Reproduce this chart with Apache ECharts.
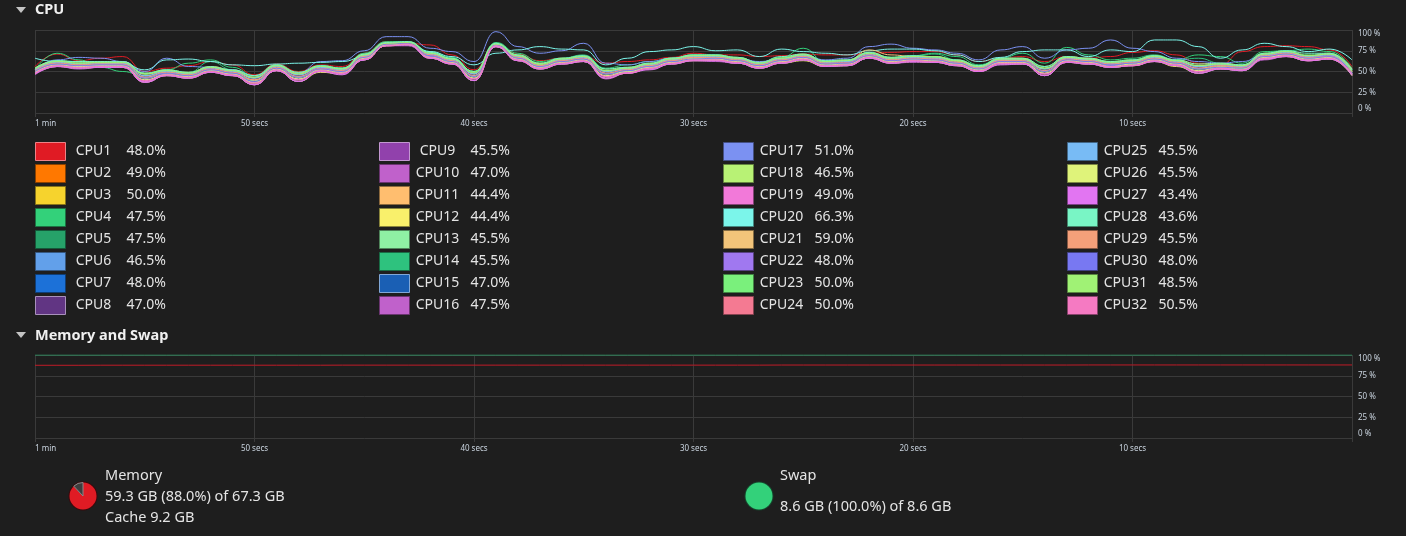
<!DOCTYPE html>
<html><head><meta charset="utf-8">
<script src="https://cdn.jsdelivr.net/npm/echarts@6/dist/echarts.min.js"></script>
<style>html,body{margin:0;padding:0;background:#1e1e1e;}#c{width:1406px;height:536px;}</style>
</head><body><div id="c"></div>
<script>
// ---- data ----
const timeLabels = ['1 min','50 secs','40 secs','30 secs','20 secs','10 secs',''];
const pctTicks = [0,25,50,75,100];
const cpuNames = ['CPU1','CPU2','CPU3','CPU4','CPU5','CPU6','CPU7','CPU8','CPU9','CPU10','CPU11','CPU12','CPU13','CPU14','CPU15','CPU16','CPU17','CPU18','CPU19','CPU20','CPU21','CPU22','CPU23','CPU24','CPU25','CPU26','CPU27','CPU28','CPU29','CPU30','CPU31','CPU32'];
const cpuNow = ['48.0%','49.0%','50.0%','47.5%','47.5%','46.5%','48.0%','47.0%','45.5%','47.0%','44.4%','44.4%','45.5%','45.5%','47.0%','47.5%','51.0%','46.5%','49.0%','66.3%','59.0%','48.0%','50.0%','50.0%','45.5%','45.5%','43.4%','43.6%','45.5%','48.0%','48.5%','50.5%'];

const CPU1 = [56,71,63,66,68,50,54,57,62,58,46,59,50,58,56,72,86,84,82,70,52,84,71,63,66,68,60,62,64,67,72,70,70,68,69,71,70,70,72,73,74,74,70,62,66,68,62,68,66,68,73,75,70,60,58,74,80,81,80,76,56];
const CPU2 = [54,63,61,62,62,48,52,49,56,52,45,58,49,57,54,71,85,86,73,66,50,84,70,60,66,69,53,55,60,66,70,70,67,61,67,71,63,64,73,67,69,68,64,57,66,66,56,68,66,62,64,69,64,59,60,58,72,75,70,72,53];
const CPU3 = [48,57,55,56,56,39,46,43,50,46,35,52,40,51,48,65,82,83,67,60,39,81,64,54,60,63,44,49,54,60,64,64,61,55,61,65,57,58,67,61,63,62,58,51,60,60,47,62,60,56,58,63,58,50,54,52,66,69,64,66,46];
const CPU4 = [52,72,64,55,50,44,52,60,64,55,45,58,48,57,54,72,86,86,74,67,50,85,72,62,66,69,54,58,62,66,70,70,67,60,67,78,62,58,72,67,69,72,68,58,66,72,60,79,70,64,66,70,64,70,68,60,74,75,77,74,54];
const CPU5 = [53,62,60,58,61,47,51,48,55,51,43,57,47,56,53,70,84,85,72,65,48,83,69,59,65,68,51,54,59,65,69,69,66,60,66,70,56,57,72,66,68,67,63,56,65,65,54,67,65,61,63,68,63,57,59,57,71,74,69,71,52];
const CPU6 = [51,60,58,59,59,43,49,46,53,49,40,55,44,54,51,68,83,84,70,63,45,82,67,57,63,66,48,52,57,63,67,67,64,58,64,68,60,61,70,64,66,65,61,54,63,63,51,65,63,59,61,66,61,54,57,55,69,72,67,69,48];
const CPU7 = [50,61,59,60,60,45,50,47,54,50,42,56,46,55,53,69,84,85,71,64,47,83,68,58,64,67,50,53,58,64,67,68,65,59,65,69,61,62,71,65,67,66,62,55,64,64,53,66,64,60,63,67,62,56,58,56,70,73,68,70,49];
const CPU8 = [49,58,56,57,57,40,47,44,51,47,37,53,41,52,49,66,82,83,68,61,42,81,65,55,61,64,45,50,55,61,65,65,62,56,62,66,58,59,68,62,64,63,59,52,61,61,48,63,61,57,59,64,59,51,55,53,67,70,65,67,46];
const CPU9 = [48,56,55,56,56,39,46,43,50,46,36,52,40,51,48,64,82,83,67,60,41,81,64,54,60,63,44,49,54,60,64,64,61,54,61,65,57,58,67,61,63,62,58,51,60,60,47,62,59,56,58,63,58,50,54,52,66,69,64,66,47];
const CPU10 = [47,56,53,55,55,37,45,42,49,45,34,51,38,50,47,64,81,82,66,59,39,80,63,53,59,62,41,48,53,59,63,63,60,54,60,64,56,57,66,60,61,61,57,50,59,59,45,61,59,55,57,62,57,48,53,51,65,68,63,65,46];
const CPU11 = [52,61,59,60,60,45,50,47,55,50,42,56,46,55,52,69,84,85,71,65,47,83,68,58,64,67,50,53,58,64,68,68,65,59,65,69,61,62,73,65,67,66,62,55,64,64,53,66,64,60,62,67,62,56,58,56,70,74,68,70,50];
const CPU12 = [47,56,54,55,55,37,45,42,49,45,34,51,38,49,47,64,81,82,66,59,39,80,63,53,59,62,42,48,53,59,63,63,60,54,60,63,56,57,66,60,62,61,57,50,59,59,45,61,59,55,57,62,56,48,53,51,65,68,63,65,45];
const CPU13 = [50,59,57,58,58,42,48,45,52,48,39,54,43,53,50,67,83,84,69,62,44,82,66,56,62,65,47,51,56,62,66,66,63,57,63,67,59,60,69,63,65,64,60,53,62,62,50,64,62,58,60,65,60,53,56,54,68,71,66,68,47];
const CPU14 = [54,63,61,62,62,48,52,49,62,52,45,58,49,57,54,71,85,86,73,66,50,84,70,60,66,70,53,55,60,66,70,70,67,61,67,71,63,64,73,67,69,71,64,57,66,66,56,68,66,62,64,69,64,66,60,58,72,75,70,72,52];
const CPU15 = [51,60,58,59,58,43,49,46,53,49,40,55,44,54,51,68,83,84,70,63,45,82,66,57,63,66,48,52,57,63,67,67,64,58,64,68,60,61,70,64,66,65,61,54,62,63,51,65,63,59,61,66,61,54,57,55,69,72,67,69,49];
const CPU16 = [46,56,54,55,55,37,45,42,49,45,34,51,38,50,47,64,81,81,66,59,39,80,63,53,59,62,42,48,53,59,63,62,60,54,60,64,56,57,66,60,62,61,57,50,59,59,45,61,59,55,57,62,57,48,53,51,64,68,63,65,46];
const CPU17 = [52,64,67,66,62,50,66,56,55,52,45,56,48,62,63,75,92,92,78,74,62,98,80,72,75,84,60,58,62,66,69,68,66,62,65,70,64,66,80,83,78,76,72,64,76,80,66,76,78,88,78,74,66,62,60,62,70,73,69,71,52];
const CPU18 = [50,59,57,58,58,42,48,45,52,47,39,54,43,53,50,67,83,84,69,62,44,82,66,56,62,65,47,50,56,62,66,66,63,57,63,67,59,60,69,63,65,64,60,53,62,62,50,63,62,58,60,65,60,53,56,54,68,71,66,68,48];
const CPU19 = [48,57,55,56,56,38,46,43,50,46,36,52,40,51,48,65,82,83,67,60,41,80,64,54,60,63,44,49,54,60,64,64,61,55,61,65,57,58,67,61,63,62,58,50,60,60,47,62,60,56,58,63,58,50,54,52,66,69,63,66,47];
const CPU20 = [66,62,62,60,60,52,64,65,62,58,57,59,60,61,62,68,84,85,74,68,58,72,76,80,77,76,58,66,74,76,80,75,76,68,77,74,72,70,75,77,77,75,70,62,67,74,76,76,68,76,74,88,88,80,66,76,84,80,74,77,64];
const CPU21 = [53,62,60,61,61,47,51,48,55,51,43,57,48,56,53,70,84,85,72,65,48,83,69,59,65,68,51,54,59,65,69,69,66,60,66,70,62,63,76,70,68,67,63,56,65,65,54,67,65,61,63,68,63,57,59,57,71,74,69,71,53];
const CPU22 = [49,58,56,57,57,40,47,43,51,47,37,53,41,52,49,66,82,83,68,61,42,81,65,55,60,64,45,50,55,61,65,65,62,56,62,66,58,59,68,62,64,63,59,52,61,60,48,63,61,57,59,64,59,51,55,52,67,70,65,67,47];
const CPU23 = [53,63,60,61,61,47,51,48,55,51,43,57,47,56,53,70,84,85,72,65,48,83,69,59,65,68,51,54,59,66,69,69,66,60,66,70,62,63,72,66,68,67,63,56,65,65,54,67,65,61,63,69,63,57,59,57,71,74,69,71,51];
const CPU24 = [51,60,58,59,59,43,49,46,53,49,40,54,44,54,51,68,83,84,70,63,45,82,67,57,63,66,48,52,57,63,67,67,65,58,64,68,60,61,70,64,66,65,61,54,63,63,51,65,63,59,61,66,61,54,57,55,68,72,67,69,50];
const CPU25 = [52,61,59,59,60,45,50,47,54,50,42,56,46,55,52,69,84,85,71,64,47,83,68,57,64,67,50,53,58,64,68,68,65,59,65,69,61,62,71,65,67,66,61,55,64,64,53,66,64,60,62,67,62,56,58,56,70,73,68,70,48];
const CPU26 = [49,58,56,57,57,40,46,44,51,47,37,53,41,52,49,66,82,83,67,61,42,81,65,55,61,64,45,50,55,61,65,65,62,56,62,66,58,59,68,62,64,63,59,52,61,61,48,63,61,56,59,64,59,51,55,53,67,70,65,67,46];
const CPU27 = [47,56,54,55,55,37,45,42,49,45,34,51,38,50,46,64,81,82,66,59,39,80,63,53,59,62,42,48,52,59,63,63,60,54,60,64,56,57,66,60,62,61,57,50,58,59,45,61,59,55,57,62,57,48,53,51,65,68,63,65,45];
const CPU28 = [54,63,62,62,62,48,52,49,56,52,45,58,49,57,54,71,85,86,73,66,50,84,70,60,66,69,53,55,60,66,70,70,67,61,68,71,63,64,73,67,69,68,64,57,66,66,56,68,66,62,64,69,64,59,60,58,72,75,72,72,52];
const CPU29 = [51,60,58,59,59,43,49,46,53,49,40,55,44,53,51,68,83,84,70,63,45,82,67,57,63,66,48,52,57,63,67,67,64,58,64,68,60,60,70,64,66,65,61,54,63,63,51,65,63,59,61,66,61,54,57,55,69,72,67,68,48];
const CPU30 = [50,59,57,58,58,42,48,45,52,48,38,54,43,53,50,67,83,84,69,62,44,82,66,56,62,65,47,51,56,62,65,66,63,57,63,67,59,60,69,63,65,64,60,53,62,62,50,64,62,58,60,65,60,53,55,54,68,71,66,68,47];
const CPU31 = [54,62,60,61,61,47,51,48,55,51,43,57,47,56,53,70,84,85,72,65,49,83,69,59,65,68,51,54,59,65,69,69,66,60,66,70,62,63,72,66,68,68,63,56,65,65,54,67,65,61,63,68,63,57,59,57,71,74,69,71,50];
const CPU32 = [48,57,55,56,56,39,46,43,50,46,36,52,40,51,48,65,81,83,67,60,41,81,64,54,60,63,44,48,54,60,64,64,61,55,61,65,57,58,67,61,63,62,58,51,60,60,47,62,60,56,57,63,58,50,54,52,66,69,64,66,47];

const memUsedPct = [87.6,87.6,87.6,87.7,87.7,87.7,87.7,87.7,87.7,87.7,87.7,87.7,87.7,87.7,87.8,87.8,87.8,87.8,87.8,87.8,87.8,87.8,87.8,87.8,87.8,87.8,87.8,87.8,87.8,87.8,87.8,87.8,87.8,87.8,87.9,87.9,87.9,87.9,87.9,87.9,87.9,87.9,87.9,87.9,87.9,87.9,87.9,87.9,88.0,88.0,88.0,88.0,88.0,88.0,88.0,88.0,88.0,88.0,88.0,88.0,88.0];
const swapUsedPct = [100,100,100,100,100,100,100,100,100,100,100,100,100,100,100,100,100,100,100,100,100,100,100,100,100,100,100,100,100,100,100,100,100,100,100,100,100,100,100,100,100,100,100,100,100,100,100,100,100,100,100,100,100,100,100,100,100,100,100,100,100];
const memUsedGB = '59.3', memTotalGB = '67.3', memPct = 88.0, cacheGB = '9.2';
const swapUsedGB = '8.6', swapTotalGB = '8.6', swapPct = 100.0;

// ---- styles ----
const cpuColors = ['#e01b24','#ff7800','#f6d32d','#33d17a','#26a269','#62a0ea','#1c71d8','#613583','#9141ac','#c061cb','#ffbe6f','#f9f06b','#8ff0a4','#2ec27e','#1a5fb4','#c061cb','#7b91f2','#b8f275','#f279d9','#7bf5ea','#f2c47a','#a078f0','#7af07c','#f47a92','#78bbf5','#dff37a','#e275f2','#79f5c5','#f5a07a','#7878f2','#a0f275','#f57ac2'];
const lightBorder = [0,7,8,14];
function shade(hex, lighten){
  const n = parseInt(hex.slice(1),16); let r=n>>16,g=(n>>8)&255,b=n&255;
  if(lighten){ r=Math.round(r+(255-r)*0.45); g=Math.round(g+(255-g)*0.45); b=Math.round(b+(255-b)*0.45); }
  else { r=Math.round(r*0.55); g=Math.round(g*0.55); b=Math.round(b*0.55); }
  return 'rgb('+r+','+g+','+b+')';
}
const FONT = 'Noto Sans';
const GRIDC = '#3a3a3a';
const LABELC = '#c9d3de';
const cpuArrays = [CPU1,CPU2,CPU3,CPU4,CPU5,CPU6,CPU7,CPU8,CPU9,CPU10,CPU11,CPU12,CPU13,CPU14,CPU15,CPU16,CPU17,CPU18,CPU19,CPU20,CPU21,CPU22,CPU23,CPU24,CPU25,CPU26,CPU27,CPU28,CPU29,CPU30,CPU31,CPU32];

function xAx(gi){
  return {type:'value', gridIndex:gi, min:0, max:60, interval:10,
    axisLine:{show:false},
    axisTick:{show:true, length:4, lineStyle:{color:GRIDC}},
    splitLine:{show:true, lineStyle:{color:GRIDC, width:1}},
    axisLabel:{color:LABELC, fontSize:8, fontFamily:FONT, margin:7, alignMinLabel:'left',
      formatter:v=>timeLabels[Math.round(v/10)]}};
}
function yAx(gi){
  return {type:'value', gridIndex:gi, min:pctTicks[0], max:pctTicks[pctTicks.length-1], interval:25, position:'right',
    axisLine:{show:false},
    axisTick:{show:true, length:3, lineStyle:{color:GRIDC}},
    splitLine:{show:true, lineStyle:{color:GRIDC, width:1}},
    axisLabel:{color:LABELC, fontSize:8, fontFamily:FONT, margin:6,
      verticalAlignMinLabel:'bottom', verticalAlignMaxLabel:'top',
      formatter:'{value} %'}};
}

const series = [];
cpuArrays.forEach((arr,k)=>{
  series.push({name:cpuNames[k], type:'line', xAxisIndex:0, yAxisIndex:0,
    data:arr.map((v,i)=>[i,v]), smooth:0.5, smoothMonotone:'x', showSymbol:false, symbol:'none',
    lineStyle:{width:1, color:cpuColors[k]}, itemStyle:{color:cpuColors[k]}, silent:true, z:2});
});
series.push({name:'Memory', type:'line', xAxisIndex:1, yAxisIndex:1, data:memUsedPct.map((v,i)=>[i,v]),
  showSymbol:false, symbol:'none', lineStyle:{width:1, color:'#c01c28'}, silent:true});
series.push({name:'Swap', type:'line', xAxisIndex:1, yAxisIndex:1, data:swapUsedPct.map((v,i)=>[i,v]),
  showSymbol:false, symbol:'none', lineStyle:{width:1, color:'#2f9e68'}, silent:true});
const pieBase = {type:'pie', startAngle:90, clockwise:true, silent:true, label:{show:false}, labelLine:{show:false}, emphasis:{disabled:true}};
series.push(Object.assign({}, pieBase, {name:'memRing', center:[83,496], radius:14.5, z:1,
  itemStyle:{color:'#3a0a0d', borderWidth:0}, data:[{value:1, name:'ring'}]}));
series.push(Object.assign({}, pieBase, {name:'memPie', center:[83,496], radius:13.5, z:2,
  itemStyle:{borderWidth:0},
  data:[{value:memPct, name:'used', itemStyle:{color:'#e01b24'}},{value:100-memPct, name:'free', itemStyle:{color:'#3d3d3d', borderColor:'#8a8a8a', borderWidth:1}}]}));
series.push(Object.assign({}, pieBase, {name:'swapRing', center:[759,496], radius:14.5, z:1,
  itemStyle:{color:'#16452d', borderWidth:0}, data:[{value:1, name:'ring2'}]}));
series.push(Object.assign({}, pieBase, {name:'swapPie', center:[759,496], radius:13.5, z:2,
  itemStyle:{borderWidth:0},
  data:[{value:swapPct, name:'swapUsed', itemStyle:{color:'#33d17a'}},{value:100-swapPct, name:'swapFree', itemStyle:{color:'#3d3d3d'}}]}));

const legends = [0,1,2,3].map(col=>({
  left:35+344*col, top:142, orient:'vertical', padding:0, itemWidth:30, itemHeight:18, itemGap:3,
  icon:'rect', selectedMode:false,
  data:cpuNames.slice(col*8,col*8+8).map((nm,j)=>{const k=col*8+j; return {name:nm, icon:'rect',
    itemStyle:{color:cpuColors[k], borderColor:shade(cpuColors[k], lightBorder.indexOf(k)>=0), borderWidth:1}};}),
  formatter:nm=>'{n|'+nm+'}{v|'+cpuNow[cpuNames.indexOf(nm)]+'}',
  textStyle:{color:'#e4e4e4', fontSize:14, fontFamily:FONT,
    rich:{n:{width:46, align:'center', color:'#e4e4e4', fontSize:14, fontFamily:FONT},
          v:{padding:[0,0,0,10], color:'#e4e4e4', fontSize:14, fontFamily:FONT}}}
}));

const txt = (x,y,s,opt)=>Object.assign({type:'text', x:x, y:y, silent:true,
  style:Object.assign({text:s, fill:'#e4e4e4', font:'14.5px "'+FONT+'"', textVerticalAlign:'middle', verticalAlign:'middle'}, opt||{})});

const option = {
  backgroundColor:'#1e1e1e', animation:false,
  grid:[{left:35, top:30, width:1317, height:83},{left:35, top:355, width:1317, height:83}],
  xAxis:[xAx(0), xAx(1)],
  yAxis:[yAx(0), yAx(1)],
  legend:legends,
  series:series,
  graphic:[
    {type:'polygon', silent:true, shape:{points:[[16,7],[26,7],[21,13]]}, style:{fill:'#c4c4c4'}},
    txt(35,10,'CPU',{font:'bold 14.5px "'+FONT+'"', fill:'#f0f0f0'}),
    {type:'polygon', silent:true, shape:{points:[[16,332],[26,332],[21,338]]}, style:{fill:'#c4c4c4'}},
    txt(35,335.5,'Memory and Swap',{font:'bold 14.5px "'+FONT+'"', fill:'#f0f0f0'}),
    txt(105,476,'Memory'),
    txt(105,497,memUsedGB+' GB ('+memPct.toFixed(1)+'%) of '+memTotalGB+' GB'),
    txt(105,518,'Cache '+cacheGB+' GB'),
    txt(780,476,'Swap'),
    txt(780,507,swapUsedGB+' GB ('+swapPct.toFixed(1)+'%) of '+swapTotalGB+' GB')
  ]
};
const chart = echarts.init(document.getElementById('c'));
chart.setOption(option);
</script></body></html>
